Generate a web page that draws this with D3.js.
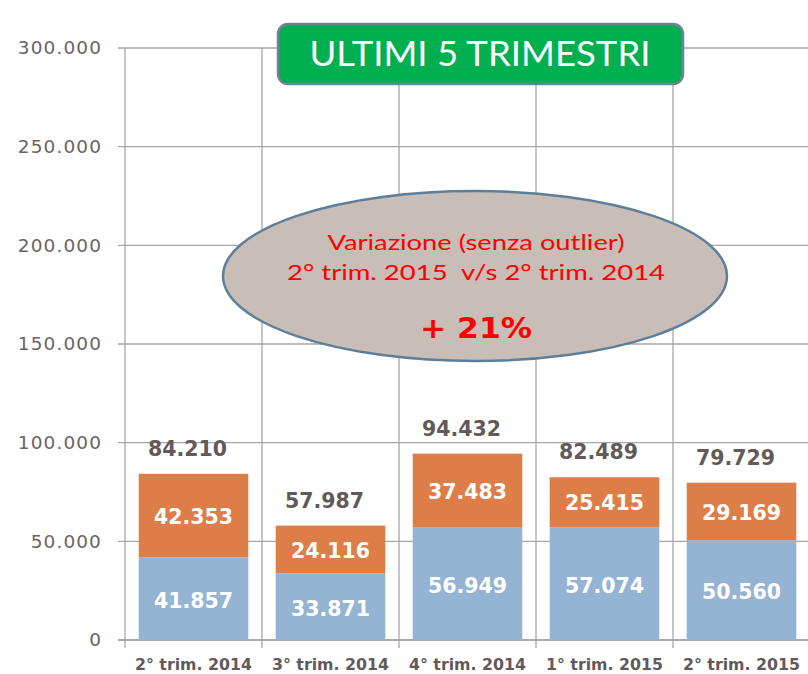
<!DOCTYPE html>
<html><head><meta charset="utf-8">
<script src="https://cdn.jsdelivr.net/npm/d3@7"></script>
<style>body{margin:0;background:#fff}svg{display:block}</style>
</head><body>
<svg id="c" width="808" height="674"></svg>
<script>
const categories = ["2° trim. 2014","3° trim. 2014","4° trim. 2014","1° trim. 2015","2° trim. 2015"];
const bottomValues = [41857, 33871, 56949, 57074, 50560];
const topValues = [42353, 24116, 37483, 25415, 29169];
const totals = [84210, 57987, 94432, 82489, 79729];
const yTicks = [0, 50000, 100000, 150000, 200000, 250000, 300000];
const titleText = "ULTIMI 5 TRIMESTRI";
const noteLines = ["Variazione (senza outlier)", "2° trim. 2015  v/s 2° trim. 2014", "+ 21%"];

const svg = d3.select("#c");
const fmt = v => d3.format(",")(v).replace(/,/g, ".");
const x = d3.scaleBand().domain(categories).range([125, 810]).paddingInner(0.2).paddingOuter(0.1);
const y = d3.scaleLinear().domain([0, 300000]).range([640, 48]);
const step = x.step();
const bandStart = i => 125 + i * step;

// horizontal gridlines
svg.append("g").selectAll("line").data(yTicks).join("line")
  .attr("x1", 118).attr("x2", 808).attr("y1", d => y(d)).attr("y2", d => y(d))
  .attr("stroke", d => d === 0 ? "#8c8c8c" : "#a6a6a6").attr("stroke-width", 1.3);
// vertical gridlines
svg.append("g").selectAll("line").data(d3.range(categories.length + 1)).join("line")
  .attr("x1", i => bandStart(i)).attr("x2", i => bandStart(i))
  .attr("y1", 48).attr("y2", 648)
  .attr("stroke", "#a6a6a6").attr("stroke-width", 1.3);

// y tick labels
svg.append("g").selectAll("text").data(yTicks).join("text")
  .attr("x", 102).attr("y", d => y(d)).attr("dy", "0.35em")
  .attr("text-anchor", "end")
  .attr("font-family", "DejaVu Sans, sans-serif").attr("font-size", 18.5)
  .attr("letter-spacing", 1.1)
  .attr("fill", "#6b6363").text(d => d === 0 ? "0" : fmt(d));

// bars
const g = svg.append("g");
g.selectAll("rect.b").data(categories).join("rect").attr("class", "b")
  .attr("x", d => x(d)).attr("width", x.bandwidth())
  .attr("y", (d, i) => y(bottomValues[i])).attr("height", (d, i) => y(0) - y(bottomValues[i]))
  .attr("fill", "#95B3D3");
g.selectAll("rect.t").data(categories).join("rect").attr("class", "t")
  .attr("x", d => x(d)).attr("width", x.bandwidth())
  .attr("y", (d, i) => y(totals[i])).attr("height", (d, i) => y(bottomValues[i]) - y(totals[i]))
  .attr("fill", "#DD7E48");

const lblFont = "DejaVu Sans, Verdana, sans-serif";
g.selectAll("text.bl").data(categories).join("text").attr("class", "bl")
  .attr("x", d => x(d) + x.bandwidth() / 2)
  .attr("y", (d, i) => (y(0) + y(bottomValues[i])) / 2 + 2).attr("dy", "0.35em")
  .attr("text-anchor", "middle").attr("font-family", lblFont).attr("font-weight", "bold")
  .attr("font-size", 20.5).attr("fill", "#fff").text((d, i) => fmt(bottomValues[i]));
g.selectAll("text.tl").data(categories).join("text").attr("class", "tl")
  .attr("x", d => x(d) + x.bandwidth() / 2)
  .attr("y", (d, i) => (y(bottomValues[i]) + y(totals[i])) / 2 + 1).attr("dy", "0.35em")
  .attr("text-anchor", "middle").attr("font-family", lblFont).attr("font-weight", "bold")
  .attr("font-size", 20.5).attr("fill", "#fff").text((d, i) => fmt(topValues[i]));
g.selectAll("text.tot").data(categories).join("text").attr("class", "tot")
  .attr("x", d => x(d) + x.bandwidth() / 2 - 6)
  .attr("y", (d, i) => y(totals[i]) - 18)
  .attr("text-anchor", "middle").attr("font-family", lblFont).attr("font-weight", "bold")
  .attr("font-size", 20.5).attr("fill", "#625a5a").text((d, i) => fmt(totals[i]));

// x labels
svg.append("g").selectAll("text").data(categories).join("text")
  .attr("x", d => x(d) + x.bandwidth() / 2).attr("y", 670)
  .attr("text-anchor", "middle").attr("font-family", lblFont).attr("font-weight", "bold")
  .attr("font-size", 15.8).attr("fill", "#625a5a").text(d => d);

// title box
svg.append("rect").attr("x", 278).attr("y", 24).attr("width", 405).attr("height", 60)
  .attr("rx", 10).attr("fill", "#00B050").attr("stroke", "#6f8298").attr("stroke-width", 2.5);
svg.append("text").attr("x", 480).attr("y", 66).attr("text-anchor", "middle")
  .attr("font-family", "Lato, DejaVu Sans, sans-serif").attr("font-size", 35)
  .attr("textLength", 341).attr("lengthAdjust", "spacingAndGlyphs")
  .attr("fill", "#fff").text(titleText);

// ellipse note
svg.append("ellipse").attr("cx", 475).attr("cy", 276).attr("rx", 252).attr("ry", 85)
  .attr("fill", "#C9BDB7").attr("stroke", "#5e7f99").attr("stroke-width", 2.5);
const noteY = [250, 280, 338], noteW = [297, 378, 112], noteSize = [20.5, 20.5, 28];
svg.append("g").selectAll("text").data(noteLines).join("text")
  .attr("x", 476).attr("y", (d, i) => noteY[i]).attr("text-anchor", "middle")
  .attr("font-family", (d, i) => i === 2 ? "DejaVu Sans, sans-serif" : "Lato, DejaVu Sans, sans-serif")
  .attr("font-weight", (d, i) => i === 2 ? "bold" : "normal")
  .attr("font-size", (d, i) => noteSize[i])
  .attr("textLength", (d, i) => noteW[i]).attr("lengthAdjust", "spacingAndGlyphs")
  .attr("fill", "#ff0000").attr("xml:space", "preserve").style("white-space", "pre")
  .text(d => d);
</script>
</body></html>
